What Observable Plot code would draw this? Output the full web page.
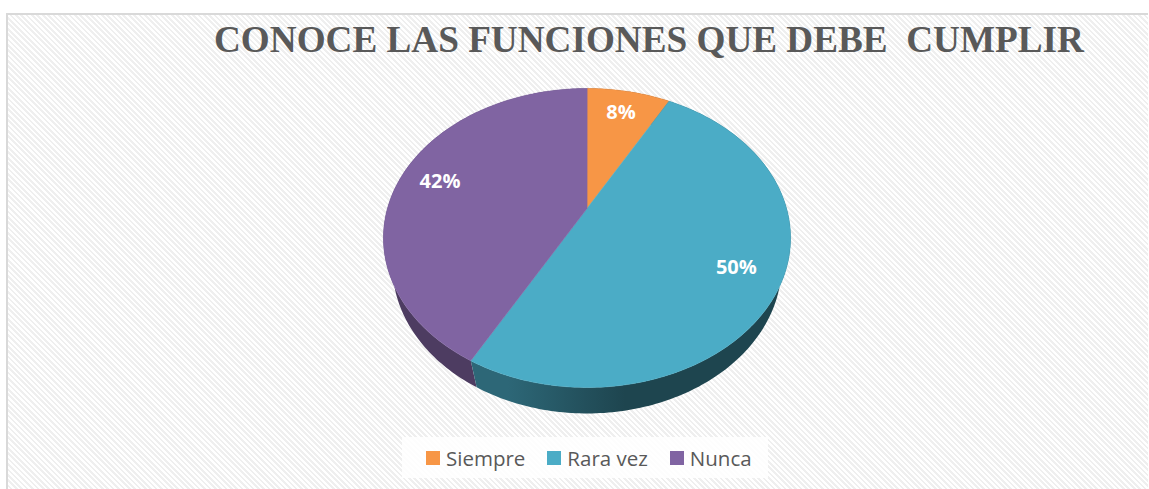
<!DOCTYPE html>
<html>
<head>
<meta charset="utf-8">
<script src="https://cdn.jsdelivr.net/npm/d3@7"></script>
<script src="https://cdn.jsdelivr.net/npm/@observablehq/plot@0.6"></script>
<style>
  html, body { margin: 0; padding: 0; background: #ffffff; }
  #wrap { position: relative; width: 1149px; height: 489px; overflow: hidden; background: #ffffff; }
  #frame {
    position: absolute; left: 6px; top: 13px; width: 1142px; height: 500px;
    border: 2px solid #d9d9d9; border-right: none; box-sizing: border-box;
    background: repeating-linear-gradient(45deg, #ffffff 0px, #ffffff 1.9px, #efefef 1.9px, #efefef 3.8px);
  }
  #title {
    position: absolute; left: 214px; top: 21px; white-space: pre;
    font-family: "Liberation Serif", "Times New Roman", serif; font-weight: bold;
    font-size: 37.2px; line-height: 37px; color: #595959;
  }
  #chart { position: absolute; left: 0; top: 0; }
  #legend {
    position: absolute; left: 402px; top: 437px; width: 366px; height: 41px;
    background: rgba(255,255,255,0.85); box-sizing: border-box; padding-left: 24px;
    display: flex; align-items: center; white-space: nowrap;
    font-family: "Open Sans", sans-serif; font-size: 20.5px; color: #595959;
  }
  .item { display: flex; align-items: center; margin-right: 22px; flex-shrink: 0; }
  .sw { width: 14px; height: 14px; margin-right: 6px; flex-shrink: 0; }
</style>
</head>
<body>
<div id="wrap">
  <div id="frame"></div>
  <div id="chart"></div>
  <div id="title"></div>
  <div id="legend"></div>
</div>
<script>
// ---- data ----
const categories = ["Siempre", "Rara vez", "Nunca"];
const values = [8, 50, 42];
const labels = ["8%", "50%", "42%"];
const colors = ["#f79646", "#4bacc6", "#8064a2"];
const titleText = "CONOCE LAS FUNCIONES QUE DEBE  CUMPLIR";

// ---- 3D projection (layout) ----
const W = 1149, H = 489;
const cx = 586.5, cy = 208;
const focal = 702.5, dist = 3.52;
const sinT = 0.72, cosT = Math.sqrt(1 - sinT * sinT);
const thick = 0.216;
function project(X, Y, Z) {
  const yc = Y * cosT + Z * sinT;
  const zc = Z * cosT - Y * sinT;
  const s = focal / (dist + zc);
  return [cx + X * s, cy - yc * s];
}
const rim = (t, Y, r = 1) => project(r * Math.sin(t), Y, r * Math.cos(t));

const total = d3.sum(values);
let cum = 0;
const slices = categories.map((c, i) => {
  const a0 = cum / total * 2 * Math.PI;
  cum += values[i];
  const a1 = cum / total * 2 * Math.PI;
  return {c, i, a0, a1};
});

const deg = Math.PI / 180;
const arcSteps = (a0, a1) => {
  const n = Math.max(2, Math.ceil((a1 - a0) / deg));
  return d3.range(n + 1).map(j => a0 + (a1 - a0) * j / n);
};

// top faces
const topRows = [];
for (const s of slices) {
  const [x0, y0] = project(0, 0, 0);
  topRows.push({id: s.c, x: x0, y: y0, fill: colors[s.i]});
  for (const t of arcSteps(s.a0, s.a1)) {
    const [x, y] = rim(t, 0);
    topRows.push({id: s.c, x, y, fill: colors[s.i]});
  }
}

// wall shading (light from front-left)
function wallColor(i, t) {
  const c = Math.cos(t - 225 * deg);
  const sh = Math.max(0, Math.min(1, (c - 0.6) / 0.3));
  const k = 2.57 + (1.43 - 2.57) * sh;
  return d3.color(colors[i]).darker(k).formatHex();
}

// walls: one polygon per slice, gradient along x
const wallRows = [];
const gradients = [];
const order = slices.slice().sort((a, b) => Math.cos((b.a0 + b.a1) / 2) - Math.cos((a.a0 + a.a1) / 2));
for (const s of order) {
  const ts = arcSteps(s.a0, s.a1);
  const gid = `wallGrad${s.i}`;
  const top = ts.map(t => rim(t, 0));
  const bot = ts.map(t => rim(t, -thick)).reverse();
  for (const [x, y] of top.concat(bot)) wallRows.push({id: gid, x, y, fill: `url(#${gid})`});
  const lo = Math.max(s.a0, 95 * deg), hi = Math.min(s.a1, 265 * deg);
  const samples = lo < hi ? d3.range(13).map(j => lo + (hi - lo) * j / 12) : [(s.a0 + s.a1) / 2];
  const pts = samples.map(t => ({x: rim(t, -thick / 2)[0], col: wallColor(s.i, t)}));
  const xs = pts.map(p => p.x);
  const x1 = d3.min(xs), x2 = d3.max(xs);
  gradients.push({gid, x1, x2: x2 > x1 ? x2 : x1 + 1,
    stops: pts.map(p => ({o: x2 > x1 ? (p.x - x1) / (x2 - x1) : 0, col: p.col})).sort((a, b) => a.o - b.o)});
}

// shadow
const shadowRows = d3.range(0, 361, 2).map(d => {
  const [x, y] = rim(d * deg, -thick);
  return {id: "shadow", x, y};
});

// labels
const labelRows = slices.map(s => {
  const tm = (s.a0 + s.a1) / 2;
  const [x, y] = rim(tm, 0, 0.79);
  return {x, y, label: labels[s.i]};
});

const plot = Plot.plot({
  width: W, height: H, margin: 0,
  x: {domain: [0, W], range: [0, W], axis: null},
  y: {domain: [0, H], range: [0, H], axis: null},
  color: {type: "identity"},
  style: {background: "transparent", overflow: "visible"},
  marks: [
    Plot.line(shadowRows, {x: "x", y: "y", z: "id", curve: "linear-closed", fill: "#000", fillOpacity: 0.4, stroke: "none", dx: 2, dy: 4, ariaLabel: "shadow"}),
    Plot.line(wallRows, {x: "x", y: "y", z: "id", curve: "linear-closed", fill: "fill", stroke: "none"}),
    Plot.line(topRows, {x: "x", y: "y", z: "id", curve: "linear-closed", fill: "fill", stroke: "fill", strokeWidth: 0.5}),
    Plot.text(labelRows, {x: "x", y: "y", text: "label", fill: "#ffffff", fontWeight: "bold", fontSize: 20, fontFamily: "Open Sans", textAnchor: "middle", lineAnchor: "middle"})
  ]
});
document.getElementById("chart").appendChild(plot);

// defs: shadow blur and wall gradients
const svg = d3.select(plot);
const defs = svg.insert("defs", ":first-child");
defs.append("filter").attr("id", "pieShadow").attr("x", "-20%").attr("y", "-20%").attr("width", "140%").attr("height", "140%")
  .append("feGaussianBlur").attr("stdDeviation", 3.5);
svg.select('g[aria-label="shadow"]').attr("filter", "url(#pieShadow)");
for (const g of gradients) {
  const lg = defs.append("linearGradient").attr("id", g.gid).attr("gradientUnits", "userSpaceOnUse")
    .attr("x1", g.x1).attr("x2", g.x2).attr("y1", 0).attr("y2", 0);
  for (const st of g.stops) lg.append("stop").attr("offset", st.o).attr("stop-color", st.col);
}

// title
document.getElementById("title").textContent = titleText;

// legend
const legend = d3.select("#legend");
categories.forEach((c, i) => {
  const it = legend.append("div").attr("class", "item");
  it.append("div").attr("class", "sw").style("background", colors[i]);
  it.append("span").text(c);
});
</script>
</body>
</html>
